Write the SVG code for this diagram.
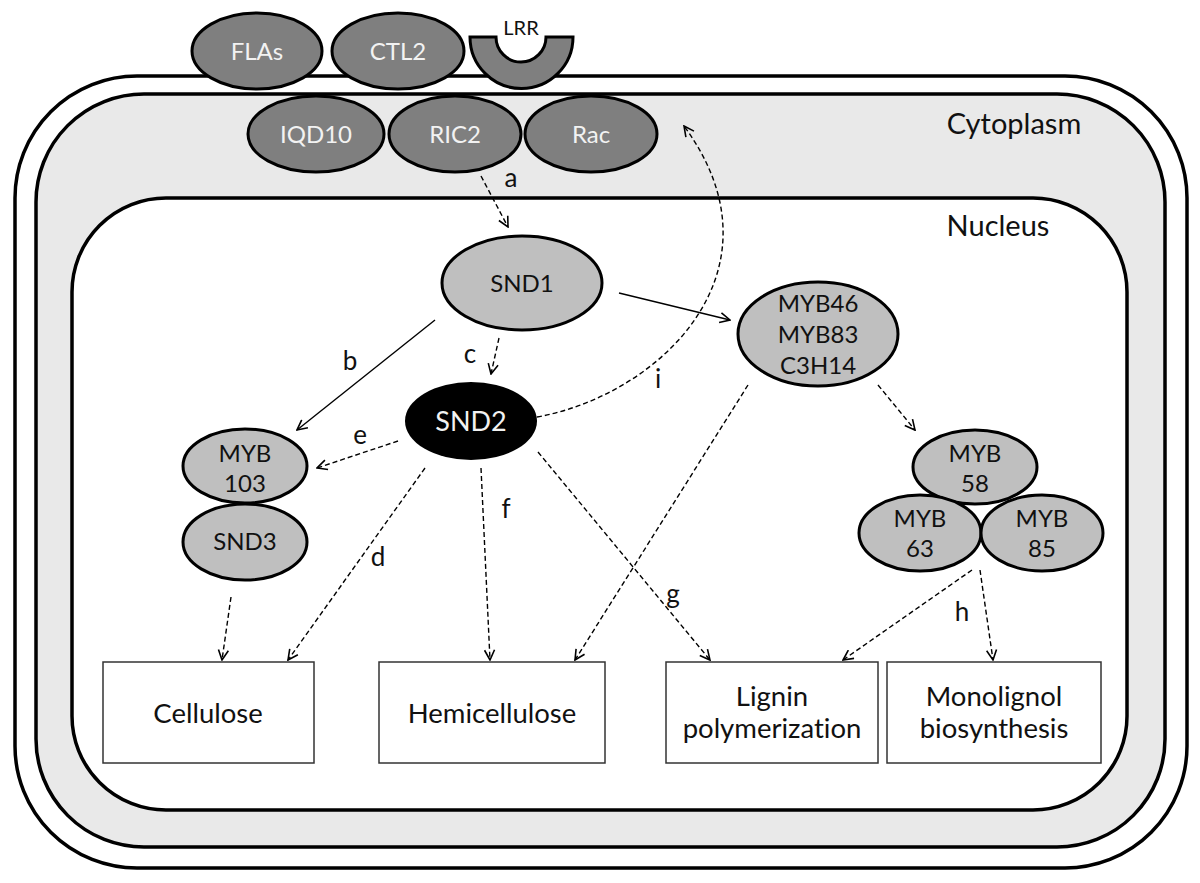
<svg xmlns="http://www.w3.org/2000/svg" width="1200" height="883" viewBox="0 0 1200 883">
<defs>
<marker id="arr" viewBox="0 0 12 12" refX="11" refY="6" markerWidth="12" markerHeight="12" markerUnits="userSpaceOnUse" orient="auto">
<path d="M1,1 L11,6 L1,11" fill="none" stroke="#000" stroke-width="1.6"/>
</marker>
</defs>
<style>
text{font-family:Lato,"Liberation Sans",sans-serif;text-anchor:middle;font-variant-ligatures:none}
.dk{fill:#7f7f7f;stroke:#000;stroke-width:3}
.lt{fill:#bfbfbf;stroke:#000;stroke-width:3}
.wt{fill:#f2f2f2;font-size:24px}
.bt{fill:#111;font-size:24px}
.box{fill:#fff;stroke:#333;stroke-width:1.5}
.bx{fill:#111;font-size:27.5px}
.lb{fill:#111;font-size:26px}
.sol{fill:none;stroke:#000;stroke-width:1.4;marker-end:url(#arr)}
.dsh{fill:none;stroke:#000;stroke-width:1.4;stroke-dasharray:5 3;marker-end:url(#arr)}
</style>
<g id="cell">
<rect x="15" y="76" width="1172" height="792" rx="122" ry="122" fill="#fff" stroke="#000" stroke-width="3.5"/>
<rect x="36" y="94" width="1129" height="753" rx="108" ry="108" fill="#e9e9e9" stroke="#000" stroke-width="3.5"/>
<rect x="72" y="198" width="1055" height="612" rx="94" ry="94" fill="#fff" stroke="#000" stroke-width="3.5"/>
<text x="1014" y="134" class="bx" style="font-size:29px">Cytoplasm</text>
<text x="998" y="236" class="bx" style="font-size:29px">Nucleus</text>
</g>
<g id="FLAs"><ellipse cx="257" cy="51" rx="65" ry="38" class="dk"/><text x="257" y="60" class="wt">FLAs</text></g>
<g id="CTL2"><ellipse cx="398" cy="51" rx="66" ry="38" class="dk"/><text x="398" y="60" class="wt">CTL2</text></g>
<g id="LRR"><path d="M470,37 L496,37 A25,25 0 0 0 546,37 L573,37 A51.5,51.5 0 0 1 470,37 Z" class="dk"/><text x="521" y="35" class="bt" style="font-size:20px">LRR</text></g>
<g id="IQD10"><ellipse cx="316" cy="134" rx="68" ry="38" class="dk"/><text x="316" y="143" class="wt">IQD10</text></g>
<g id="RIC2"><ellipse cx="455" cy="134" rx="66" ry="38" class="dk"/><text x="455" y="143" class="wt">RIC2</text></g>
<g id="Rac"><ellipse cx="591" cy="134" rx="66" ry="38" class="dk"/><text x="591" y="143" class="wt">Rac</text></g>
<g id="connectors">
<line x1="481" y1="176" x2="508" y2="227" class="dsh"/>
<line x1="435" y1="320" x2="297" y2="430" class="sol"/>
<line x1="499" y1="338" x2="491" y2="374" class="dsh"/>
<line x1="619" y1="293" x2="730" y2="320" class="sol"/>
<path d="M537,417 C660,395 790,270 684,126" class="dsh"/>
<line x1="398" y1="441" x2="317" y2="468" class="dsh"/>
<line x1="425" y1="468" x2="288" y2="660" class="dsh"/>
<line x1="231" y1="597" x2="222" y2="660" class="dsh"/>
<line x1="481" y1="468" x2="490" y2="660" class="dsh"/>
<line x1="538" y1="452" x2="710" y2="660" class="dsh"/>
<line x1="748" y1="385" x2="575" y2="660" class="dsh"/>
<line x1="878" y1="385" x2="915" y2="430" class="dsh"/>
<line x1="972" y1="570" x2="843" y2="660" class="dsh"/>
<line x1="980" y1="570" x2="993" y2="660" class="dsh"/>
<text x="511" y="187" class="lb">a</text>
<text x="350" y="370" class="lb">b</text>
<text x="470" y="363" class="lb">c</text>
<text x="378" y="566" class="lb">d</text>
<text x="360" y="444" class="lb">e</text>
<text x="506" y="518" class="lb">f</text>
<text x="673" y="603" class="lb">g</text>
<text x="962" y="621" class="lb">h</text>
<text x="658" y="388" class="lb">i</text>
</g>
<g id="SND1"><ellipse cx="522" cy="283" rx="80" ry="47" class="lt"/><text x="522" y="292" class="bt">SND1</text></g>
<g id="SND2"><ellipse cx="471" cy="421" rx="66" ry="39" fill="#000"/><text x="471" y="431" class="wt" style="font-size:27px">SND2</text></g>
<g id="MYB46"><ellipse cx="818" cy="334" rx="80" ry="52" class="lt"/><text x="818" y="312" class="bt">MYB46</text><text x="818" y="343" class="bt">MYB83</text><text x="818" y="374" class="bt">C3H14</text></g>
<g id="MYB103"><ellipse cx="245" cy="466" rx="62" ry="37" class="lt"/><text x="245" y="462" class="bt">MYB</text><text x="245" y="492" class="bt">103</text></g>
<g id="SND3"><ellipse cx="245" cy="542" rx="62" ry="38" class="lt"/><text x="245" y="550" class="bt">SND3</text></g>
<g id="MYB58"><ellipse cx="975" cy="467" rx="62" ry="37" class="lt"/><text x="975" y="462" class="bt">MYB</text><text x="975" y="492" class="bt">58</text></g>
<g id="MYB63"><ellipse cx="920" cy="533" rx="61" ry="38" class="lt"/><text x="920" y="527" class="bt">MYB</text><text x="920" y="557" class="bt">63</text></g>
<g id="MYB85"><ellipse cx="1042" cy="533" rx="61" ry="38" class="lt"/><text x="1042" y="527" class="bt">MYB</text><text x="1042" y="557" class="bt">85</text></g>
<g id="Cellulose"><rect x="103" y="662" width="211" height="101" class="box"/><text x="208" y="723" class="bx">Cellulose</text></g>
<g id="Hemicellulose"><rect x="379" y="662" width="226" height="101" class="box"/><text x="492" y="723" class="bx">Hemicellulose</text></g>
<g id="Lignin"><rect x="666" y="662" width="212" height="101" class="box"/><text x="772" y="706" class="bx">Lignin</text><text x="772" y="738" class="bx">polymerization</text></g>
<g id="Monolignol"><rect x="887" y="662" width="214" height="101" class="box"/><text x="994" y="706" class="bx">Monolignol</text><text x="994" y="738" class="bx">biosynthesis</text></g>
</svg>
